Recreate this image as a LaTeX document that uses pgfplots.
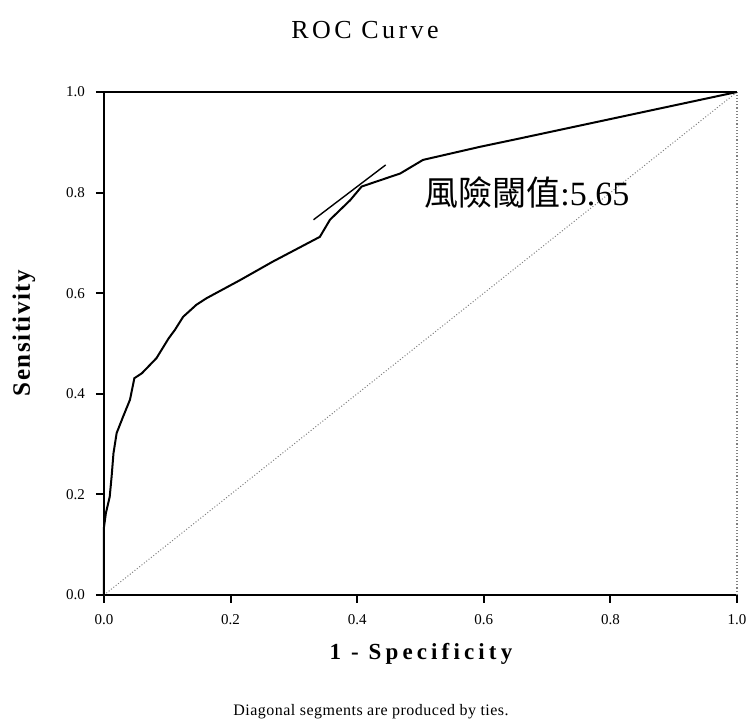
\documentclass[border=0pt]{standalone}
\usepackage{pgfplots}
\pgfplotsset{compat=1.18}
\usepackage{fontspec}
\setmainfont{Liberation Serif}
\newfontfamily\cjk{Noto Sans CJK TC}
\newfontfamily\titlefont[LetterSpace=13]{Liberation Serif}
\newfontfamily\xlabfont[LetterSpace=18]{Liberation Serif}
\newfontfamily\ylabfont[LetterSpace=6]{Liberation Serif}
\newfontfamily\notefont[LetterSpace=3]{Liberation Serif}
\begin{document}
\begin{tikzpicture}
\useasboundingbox (0,0) rectangle (375.5pt,363pt);
\begin{axis}[
  at={(52pt,65.5pt)}, anchor=south west,
  scale only axis, width=316.5pt, height=251.5pt,
  xmin=0, xmax=1, ymin=0, ymax=1,
  axis x line*=bottom, axis y line*=left,
  axis line style={line width=1.2pt, -},
  xtick={0,0.2,0.4,0.6,0.8,1.0}, ytick={0,0.2,0.4,0.6,0.8,1.0},
  tick align=outside, major tick length=4pt,
  tick style={line width=1pt, black},
  /pgf/number format/assume math mode=true,
  xticklabel style={/pgf/number format/.cd, fixed, fixed zerofill, precision=1, /tikz/.cd, font=\fontsize{7.5}{8}\selectfont, yshift=-2pt},
  yticklabel style={/pgf/number format/.cd, fixed, fixed zerofill, precision=1, /tikz/.cd, font=\fontsize{7.5}{8}\selectfont, xshift=-2pt},
  clip=false,
]
\draw[line width=0.6pt] (rel axis cs:0,1) -- (rel axis cs:1,1);
\draw[gray, densely dotted, line width=0.6pt] (rel axis cs:1,0) -- (rel axis cs:1,1);
\addplot[gray, densely dotted, line width=0.5pt] coordinates {(0,0) (1,1)};
\addplot[black, line width=1pt] coordinates {
(0,0) (0,0.135) (0.003,0.163) (0.009,0.195) (0.012,0.235) (0.015,0.282) (0.020,0.322) (0.030,0.354) (0.041,0.388) (0.048,0.431) (0.060,0.441) (0.083,0.471) (0.102,0.510) (0.112,0.527) (0.125,0.553) (0.146,0.577) (0.162,0.590) (0.215,0.626) (0.267,0.663) (0.341,0.712) (0.357,0.746) (0.389,0.785) (0.407,0.812) (0.468,0.838) (0.504,0.865) (0.594,0.891) (0.647,0.905) (1,1)};
\addplot[black, line width=0.7pt] coordinates {(0.331,0.746) (0.445,0.855)};
\node[font=\fontsize{17}{18}\selectfont] at (axis cs:0.668,0.80) {{\cjk 風險閾值}:5.65};
\end{axis}
\node[font=\titlefont\fontsize{13}{15}\selectfont] at (182.5pt,348pt) {ROC Curve};
\node[font=\ylabfont\bfseries\fontsize{12.5}{14}\selectfont, rotate=90] at (12pt,196.5pt) {Sensitivity};
\node[font=\xlabfont\bfseries\fontsize{11.5}{13}\selectfont] at (210.5pt,36pt) {1 - Specificity};
\node[font=\notefont\fontsize{8}{9}\selectfont] at (185.5pt,7pt) {Diagonal segments are produced by ties.};
\end{tikzpicture}
\end{document}
